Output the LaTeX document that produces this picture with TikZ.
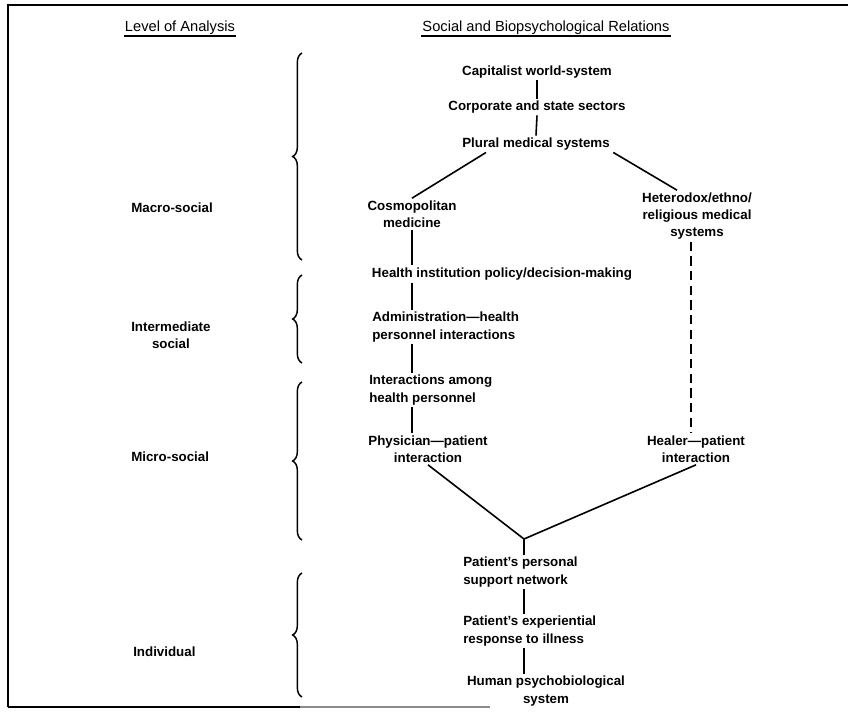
\documentclass[tikz,border=0pt]{standalone}
\usepackage{fontspec}
\setmainfont{Liberation Sans}
\usetikzlibrary{decorations.pathreplacing}

\begin{document}
\begin{tikzpicture}[x=0.75pt,y=0.75pt,yscale=-1,xscale=1,
  hdr/.style={inner sep=0.75pt, font=\fontsize{11}{13}\selectfont},
  lbl/.style={inner sep=1.5pt, font=\fontsize{10}{13}\selectfont\bfseries, align=center},
  lvl/.style={anchor=west, inner sep=0.75pt, font=\fontsize{10}{13}\selectfont\bfseries, align=center},
  link/.style={line width=1.2pt},
  lvlbrace/.style={line width=1.1pt, decorate, decoration={brace, amplitude=7pt}}]
\useasboundingbox (0,0) rectangle (848,717);

%Frame
\draw [line width=1.5pt] (8,707) -- (8,5) -- (848,5) ;
\draw [line width=1.5pt] (8,707) -- (300,707) ;
\draw [line width=1pt, color=black!45] (300,707) -- (490,707) ;

% Text Node
\node [hdr] (lvlhead) at (180,28) {Level of Analysis};
% Text Node
\node [hdr] (relhead) at (546,28) {Social and Biopsychological Relations};
%Straight Lines
\draw [line width=1pt] (lvlhead.south west) -- (lvlhead.south east) ;
\draw [line width=1pt] (relhead.south west) -- (relhead.south east) ;

% Text Node
\node [lvl] (macro) at (130,208) {Macro-social};
% Text Node
\node [lvl] (inter) at (130,335) {Intermediate\\social};
% Text Node
\node [lvl] (micro) at (130,457) {Micro-social};
% Text Node
\node [lvl] (indiv) at (132,652) {Individual};

%Braces
\draw [lvlbrace] (302,260) -- (302,53) ;
\draw [lvlbrace] (302,363) -- (302,275) ;
\draw [lvlbrace] (302,540) -- (302,382) ;
\draw [lvlbrace] (302,697) -- (302,573) ;

% Text Node
\node [lbl] (capworld) at (537,72) {Capitalist world-system};
% Text Node
\node [lbl] (corpstate) at (537,107) {Corporate and state sectors};
% Text Node
\node [lbl] (plural) at (536,144) {Plural medical systems};
% Text Node
\node [lbl] (cosmo) at (412,214) {Cosmopolitan\\medicine};
% Text Node
\node [lbl] (hetero) at (697,216) {Heterodox/ethno/\\religious medical\\systems};
% Text Node
\node [lbl] (policy) at (502,274) {Health institution policy/decision-making};
% Text Node
\node [lbl, anchor=west, align=left] (admin) at (370,327) {Administration—health\\personnel interactions};
% Text Node
\node [lbl, anchor=west, align=left] (among) at (367,390) {Interactions among\\health personnel};
% Text Node
\node [lbl] (physician) at (428,449) {Physician—patient\\interaction};
% Text Node
\node [lbl] (healer) at (696,449) {Healer—patient\\interaction};
% Text Node
\node [lbl, anchor=west, align=left] (support) at (461,572) {Patient’s personal\\support network};
% Text Node
\node [lbl, anchor=west, align=left] (exper) at (461,631) {Patient’s experiential\\response to illness};
% Text Node
\node [lbl] (human) at (546,691) {Human psychobiological\\system};
\coordinate (join) at (524,539);

%Straight Lines
\draw [link] (capworld.south) -- (corpstate.north) ;
\draw [link] (corpstate.south) -- (plural.north) ;
\draw [link] ([xshift=-37.5pt]plural.south) -- (cosmo.north) ;
\draw [link] ([xshift=58pt]plural.south) -- ([xshift=-15pt]hetero.north) ;
\draw [link] (cosmo.south) -- (cosmo.south |- policy.north) ;
\draw [link] (policy.south -| cosmo.south) -- (admin.north -| cosmo.south) ;
\draw [link] (admin.south -| cosmo.south) -- (among.north -| cosmo.south) ;
\draw [link] (among.south -| cosmo.south) -- (physician.north -| cosmo.south) ;
\draw [link] (physician.south) -- (join) -- (healer.south) ;
\draw [link] (join) -- (join |- support.north) ;
\draw [link] (support.south -| join) -- (exper.north -| join) ;
\draw [link] (exper.south -| join) -- (human.north -| join) ;
%Dashed Lines
\draw [link, dash pattern=on 7pt off 4pt] ([xshift=-4.5pt]hetero.south) -- ([xshift=-4.5pt]hetero.south |- healer.north) ;

\end{tikzpicture}
\end{document}
